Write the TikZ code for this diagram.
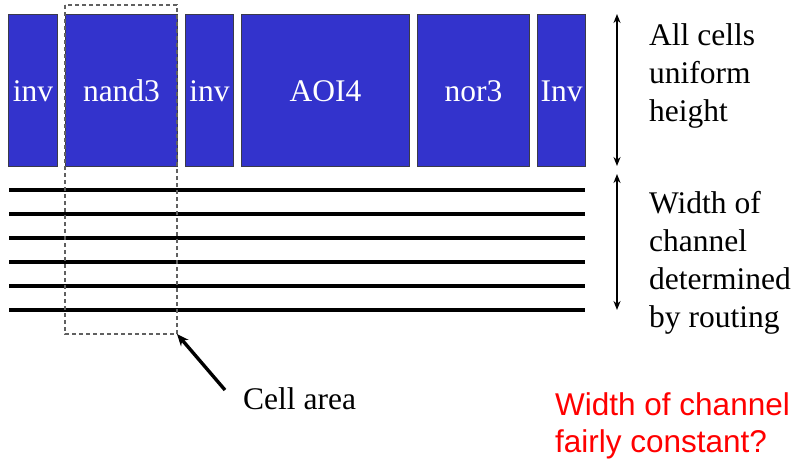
\documentclass[tikz,border=0pt]{standalone}
\usepackage{fontspec}
\setmainfont{Liberation Serif}
\newfontfamily\redsans{Liberation Sans}
\usetikzlibrary{arrows.meta,calc}
\definecolor{cellblue}{HTML}{3333CC}
\definecolor{celledge}{HTML}{3A3A4A}
\definecolor{dashgray}{HTML}{606060}
\begin{document}
\begin{tikzpicture}[x=1pt,y=-1pt,
  cellbox/.style={draw=celledge,line width=1pt,fill=cellblue,anchor=north west,inner sep=0pt,minimum height=152pt},
  celllabel/.style={text=white,font=\fontsize{31.5}{38}\selectfont,anchor=base,inner sep=0pt},
  sidetext/.style={font=\fontsize{31.5}{38}\selectfont,align=left,anchor=base west,inner sep=0pt},
  track/.style={line width=3.4pt,black},
  dimarrow/.style={{Stealth[length=9pt,width=7pt]}-{Stealth[length=9pt,width=7pt]},line width=2pt},
  callout/.style={-{Stealth[length=12pt,width=10pt]},line width=3.4pt}
]
\useasboundingbox (0,0) rectangle (798,466);
% cells
\node[cellbox,minimum width=49pt] (c1) at (8,14) {};
\node[cellbox,minimum width=112pt] (c2) at (65,14) {};
\node[cellbox,minimum width=48pt] (c3) at (185,14) {};
\node[cellbox,minimum width=168pt] (c4) at (241,14) {};
\node[cellbox,minimum width=112pt] (c5) at (417,14) {};
\node[cellbox,minimum width=48pt] (c6) at (537,14) {};
\node[celllabel] (l1) at ($(c1.north)+(0,87)$) {inv};
\node[celllabel] (l2) at ($(c2.north)+(0,87)$) {nand3};
\node[celllabel] (l3) at ($(c3.north)+(0,87)$) {inv};
\node[celllabel] (l4) at ($(c4.north)+(0,87)$) {AOI4};
\node[celllabel] (l5) at ($(c5.north)+(0,87)$) {nor3};
\node[celllabel] (l6) at ($(c6.north)+(0,87)$) {Inv};
% routing tracks
\foreach \yy/\nm in {190/t1,214/t2,238/t3,262/t4,286/t5,310/t6}{
  \coordinate (\nm a) at (9,\yy);
  \coordinate (\nm b) at (585,\yy);
  \draw[track] (\nm a) -- (\nm b);
}
% dashed cell area
\coordinate (da) at (65,5);
\coordinate (db) at (177,334);
\draw[dashgray,line width=1.3pt,dash pattern=on 4pt off 3pt] (da) rectangle (db);
% dimension arrows
\coordinate (h1) at (617,14);
\coordinate (h2) at (617,166);
\draw[dimarrow] (h1) -- (h2);
\coordinate (w1) at (617,174);
\coordinate (w2) at (617,310);
\draw[dimarrow] (w1) -- (w2);
% side texts (anchored at the last line's baseline)
\node[sidetext] (tu) at (649,121) {All cells\\uniform\\height};
\node[sidetext] (tw) at (649,327) {Width of\\channel\\determined\\by routing};
% cell area callout
\node[font=\fontsize{31.5}{38}\selectfont,anchor=base west,inner sep=0pt] (ca) at (243,409) {Cell area};
\coordinate (cs) at (225,390);
\draw[callout] (cs) -- (db);
% red question
\node[font=\redsans\fontsize{31.5}{37}\selectfont,text=red,align=left,anchor=base west,inner sep=0pt] (rq) at (555,452) {Width of channel\\fairly constant?};
\end{tikzpicture}
\end{document}
